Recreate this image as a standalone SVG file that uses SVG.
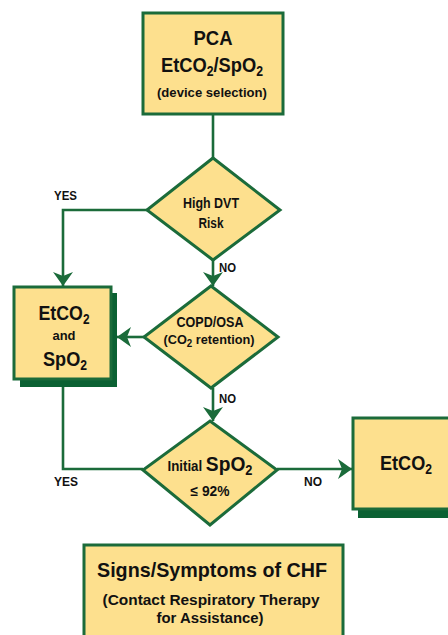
<svg xmlns="http://www.w3.org/2000/svg" width="448" height="635" viewBox="0 0 448 635">
<defs>
<style>
.box{fill:#fde08e;stroke:#1b6b3a;stroke-width:3}
.sh{fill:#0b6133}
.con{fill:none;stroke:#1b6b3a;stroke-width:2.6}
text{font-family:"Liberation Sans",Arial,sans-serif;font-weight:bold;fill:#111;text-anchor:middle}
.big{font-size:21px}
.med{font-size:14.5px}
.sm{font-size:13px}
.lbl{font-size:13px;text-anchor:start}
</style>
<marker id="ah" viewBox="0 0 14 20" refX="14" refY="10" markerWidth="14" markerHeight="20" markerUnits="userSpaceOnUse" orient="auto">
<path d="M0,0 L14,10 L0,20 L4,10 z" fill="#1b6b3a"/>
</marker>
</defs>
<g id="connectors">
<path class="con" d="M213,114 V158"/>
<path class="con" d="M147,210 H63 V286" marker-end="url(#ah)"/>
<path class="con" d="M213,260 V286" marker-end="url(#ah)"/>
<path class="con" d="M144,337 H117" marker-end="url(#ah)"/>
<path class="con" d="M213,388 V421" marker-end="url(#ah)"/>
<path class="con" d="M63,387 V469 H143"/>
<path class="con" d="M277,469 H352" marker-end="url(#ah)"/>
<text class="lbl" x="54" y="200" textLength="23" lengthAdjust="spacingAndGlyphs">YES</text>
<text class="lbl" x="219" y="272" textLength="17" lengthAdjust="spacingAndGlyphs">NO</text>
<text class="lbl" x="219" y="403" textLength="17" lengthAdjust="spacingAndGlyphs">NO</text>
<text class="lbl" x="54" y="486" textLength="24" lengthAdjust="spacingAndGlyphs">YES</text>
<text class="lbl" x="304" y="486" textLength="18" lengthAdjust="spacingAndGlyphs">NO</text>
</g>
<g id="start">
<rect class="box" x="143" y="13" width="140" height="101"/>
<text class="big" x="213" y="45" textLength="39" lengthAdjust="spacingAndGlyphs">PCA</text>
<text class="big" x="212" y="72" textLength="102" lengthAdjust="spacingAndGlyphs">EtCO<tspan font-size="14" baseline-shift="-4">2</tspan>/SpO<tspan font-size="14" baseline-shift="-4">2</tspan></text>
<text class="sm" x="212" y="97" textLength="110" lengthAdjust="spacingAndGlyphs">(device selection)</text>
</g>
<g id="dvt">
<polygon class="box" points="213,158 280,210 213,260 147,210"/>
<text class="med" x="211" y="208" textLength="56" lengthAdjust="spacingAndGlyphs">High DVT</text>
<text class="med" x="211" y="228" textLength="25" lengthAdjust="spacingAndGlyphs">Risk</text>
</g>
<g id="both">
<rect class="sh" x="20" y="293" width="97" height="94"/>
<rect class="box" x="14" y="287" width="97" height="92"/>
<text class="big" x="64" y="320" textLength="51" lengthAdjust="spacingAndGlyphs">EtCO<tspan font-size="14" baseline-shift="-4">2</tspan></text>
<text class="sm" x="64" y="340" textLength="23" lengthAdjust="spacingAndGlyphs">and</text>
<text class="big" x="65" y="366" textLength="44" lengthAdjust="spacingAndGlyphs">SpO<tspan font-size="14" baseline-shift="-4">2</tspan></text>
</g>
<g id="copd">
<polygon class="box" points="211,286 278,337 211,388 144,337"/>
<text class="med" x="210" y="327" textLength="67" lengthAdjust="spacingAndGlyphs">COPD/OSA</text>
<text class="sm" x="209" y="344" textLength="91" lengthAdjust="spacingAndGlyphs">(CO<tspan font-size="10" baseline-shift="-3">2</tspan> retention)</text>
</g>
<g id="spo2">
<polygon class="box" points="210,421 277,470 210,525 143,470"/>
<text x="210" y="471" textLength="85" lengthAdjust="spacingAndGlyphs"><tspan class="med">Initial </tspan><tspan class="big">SpO</tspan><tspan font-size="14" baseline-shift="-4">2</tspan></text>
<text class="med" x="210" y="496" textLength="39" lengthAdjust="spacingAndGlyphs">≤ 92%</text>
</g>
<g id="etco2">
<rect class="sh" x="358" y="424" width="95" height="94"/>
<rect class="box" x="353" y="418" width="100" height="91"/>
<text class="big" x="406" y="470" textLength="52" lengthAdjust="spacingAndGlyphs">EtCO<tspan font-size="14" baseline-shift="-4">2</tspan></text>
</g>
<g id="chf">
<rect class="box" x="84" y="545" width="259" height="100"/>
<text class="big" x="212" y="577" textLength="230" lengthAdjust="spacingAndGlyphs">Signs/Symptoms of CHF</text>
<text class="med" x="211" y="605" textLength="217" lengthAdjust="spacingAndGlyphs">(Contact Respiratory Therapy</text>
<text class="med" x="210" y="623" textLength="107" lengthAdjust="spacingAndGlyphs">for Assistance)</text>
</g>
</svg>
